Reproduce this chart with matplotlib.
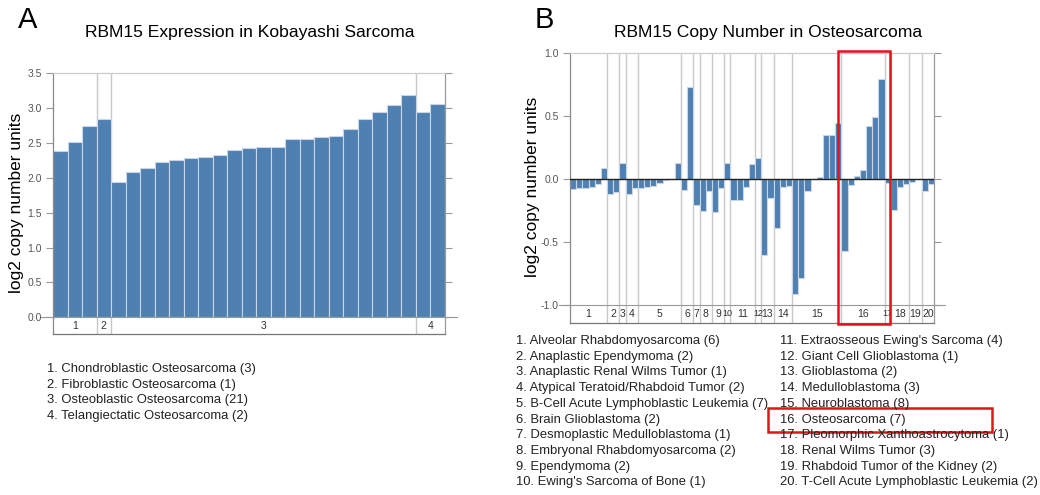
import matplotlib
matplotlib.use('Agg')
import matplotlib.pyplot as plt
from matplotlib.patches import Rectangle
import matplotlib.transforms as mtransforms
import numpy as np

plt.rcParams['font.family'] = ['Liberation Sans', 'DejaVu Sans']
plt.rcParams['axes.unicode_minus'] = False

# ---------------- data ----------------
a_title = "RBM15 Expression in Kobayashi Sarcoma"
a_groups = ["Chondroblastic Osteosarcoma", "Fibroblastic Osteosarcoma",
            "Osteoblastic Osteosarcoma", "Telangiectatic Osteosarcoma"]
a_counts = [3, 1, 21, 2]
a_values = [2.38, 2.51, 2.74,
            2.85,
            1.94, 2.09, 2.14, 2.23, 2.25, 2.28, 2.30, 2.33, 2.40, 2.43, 2.44,
            2.44, 2.56, 2.56, 2.58, 2.60, 2.70, 2.84, 2.94, 3.05, 3.19,
            2.94, 3.06]
a_yticks = [0.0, 0.5, 1.0, 1.5, 2.0, 2.5, 3.0, 3.5]

b_title = "RBM15 Copy Number in Osteosarcoma"
b_groups = ["Alveolar Rhabdomyosarcoma", "Anaplastic Ependymoma",
            "Anaplastic Renal Wilms Tumor", "Atypical Teratoid/Rhabdoid Tumor",
            "B-Cell Acute Lymphoblastic Leukemia", "Brain Glioblastoma",
            "Desmoplastic Medulloblastoma", "Embryonal Rhabdomyosarcoma",
            "Ependymoma", "Ewing's Sarcoma of Bone",
            "Extraosseous Ewing's Sarcoma", "Giant Cell Glioblastoma",
            "Glioblastoma", "Medulloblastoma", "Neuroblastoma", "Osteosarcoma",
            "Pleomorphic Xanthoastrocytoma", "Renal Wilms Tumor",
            "Rhabdoid Tumor of the Kidney", "T-Cell Acute Lymphoblastic Leukemia"]
b_counts = [6, 2, 1, 2, 7, 2, 1, 2, 2, 1, 4, 1, 2, 3, 8, 7, 1, 3, 2, 2]
b_values = [-0.08, -0.075, -0.07, -0.06, -0.04, 0.085,
            -0.12, -0.10,
            0.13,
            -0.12, -0.07,
            -0.07, -0.065, -0.055, -0.03, -0.005, 0.0, 0.13,
            -0.09, 0.73,
            -0.205,
            -0.25, -0.095,
            -0.26, -0.075,
            0.13,
            -0.165, -0.165, -0.06, 0.12,
            0.17,
            -0.605, -0.15,
            -0.385, -0.06, -0.055,
            -0.91, -0.785, -0.095, 0.0, 0.013, 0.35, 0.35, 0.445,
            -0.57, -0.045, 0.025, 0.07, 0.42, 0.49, 0.795,
            -0.03,
            -0.245, -0.06, -0.04,
            -0.025, 0.0,
            -0.095, -0.04]
b_yticks = [-1.0, -0.5, 0.0, 0.5, 1.0]
highlight_group = 16

# ---------------- layout helpers ----------------
W, H = 1040, 495
fig = plt.figure(figsize=(W / 100, H / 100), dpi=100)


def px_axes(left, top, right, bottom):
    return fig.add_axes([left / W, 1 - bottom / H, (right - left) / W, (bottom - top) / H])


def fx(x):
    return x / W


def fy(y):
    return 1 - y / H


BAR = '#4f80b2'
EDGE = '#c9d6e6'
SEP = '#c8c8c8'
LEG_FS = 9.4


def panel(ax, values, counts, ylo, yhi, strip_top, yticks, zero_dark):
    n = len(values)
    x = np.arange(n)
    ax.set_xlim(-0.5, n - 0.5)
    ax.set_ylim(ylo, yhi)
    bounds = np.cumsum(counts)
    for b in bounds[:-1]:
        ax.axvline(b - 0.5, color=SEP, lw=1.0, zorder=1)
    ax.bar(x, values, width=1.0, color=BAR, edgecolor=EDGE, linewidth=0.8, zorder=2)
    if zero_dark:
        ax.axhline(0, color='#222222', lw=1.0, zorder=3)
    # strip top line (extends slightly beyond axes)
    ax.plot([-0.03, 1.03], [strip_top, strip_top], color='#999999', lw=0.8,
            transform=ax.get_yaxis_transform(), clip_on=False, zorder=3)
    # group labels in the strip (clipped to their group cell)
    starts = np.concatenate([[0], bounds[:-1]])
    ymid = (strip_top + ylo) / 2
    for i, (s, c) in enumerate(zip(starts, counts)):
        lab = str(i + 1)
        fs = 6.5 if (c == 1 and len(lab) > 1) else 7.5
        t = ax.text(s - 0.5 + c / 2, ymid, lab, ha='center', va='center',
                    fontsize=fs, color='#333333', zorder=4)
        clip = Rectangle((s - 0.5, ylo), c, strip_top - ylo, transform=ax.transData)
        t.set_clip_path(clip)
    ax.set_yticks(yticks)
    ax.set_yticklabels(['%.1f' % v for v in yticks])
    ax.set_xticks([])
    ax.tick_params(axis='y', direction='out', length=5, width=0.8, color='#999999',
                   labelsize=7.5, labelcolor='#555555', left=True, right=True,
                   labelleft=True, labelright=False, pad=3)
    ax.spines['left'].set_color('#888888')
    ax.spines['right'].set_color('#999999')
    ax.spines['top'].set_color('#cccccc')
    ax.spines['bottom'].set_color('#777777')
    for s in ax.spines.values():
        s.set_linewidth(0.9)
    return starts


# ---------------- panel A ----------------
axA = px_axes(53, 73.3, 445, 334)
panel(axA, a_values, a_counts, -0.24, 3.5, 0.0, a_yticks, zero_dark=False)
fig.text(fx(250), fy(33), a_title, ha='center', va='center', fontsize=12.6)
fig.text(fx(18), fy(20), 'A', ha='left', va='center', fontsize=21)
fig.text(fx(17), fy(203), 'log2 copy number units', rotation=90, ha='center',
         va='center', fontsize=12.5)
for i, (g, c) in enumerate(zip(a_groups, a_counts)):
    fig.text(fx(47), fy(369 + i * 15.6), '%d. %s (%d)' % (i + 1, g, c),
             ha='left', va='center', fontsize=LEG_FS, color='#222222')

# ---------------- panel B ----------------
axB = px_axes(570, 53, 934, 322.7)
startsB = panel(axB, b_values, b_counts, -1.14, 1.0, -1.0, b_yticks, zero_dark=True)
fig.text(fx(768), fy(33), b_title, ha='center', va='center', fontsize=12.6)
fig.text(fx(535), fy(20), 'B', ha='left', va='center', fontsize=21)
fig.text(fx(532), fy(187), 'log2 copy number units', rotation=90, ha='center',
         va='center', fontsize=12.5)
for i, (g, c) in enumerate(zip(b_groups, b_counts)):
    col, row = divmod(i, 10)
    xx = 516 if col == 0 else 780
    fig.text(fx(xx), fy(341 + row * 15.7), '%d. %s (%d)' % (i + 1, g, c),
             ha='left', va='center', fontsize=LEG_FS, color='#222222')

# highlight boxes
gi = highlight_group - 1
s16 = startsB[gi]
c16 = b_counts[gi]
trB = mtransforms.blended_transform_factory(axB.transData, axB.transAxes)
axB.add_patch(Rectangle((s16 - 1.1, -0.006), c16 + 1.5, 1.014, transform=trB,
                        fill=False, edgecolor='#e3121b', lw=1.8, clip_on=False, zorder=6))
row16 = gi % 10
fig.add_artist(Rectangle((fx(768), fy(341 + row16 * 15.7 + 12)), fx(992 - 768), 24 / H,
                         transform=fig.transFigure, fill=False,
                         edgecolor='#e3121b', lw=1.8))

fig.savefig('out.png', dpi=100)
